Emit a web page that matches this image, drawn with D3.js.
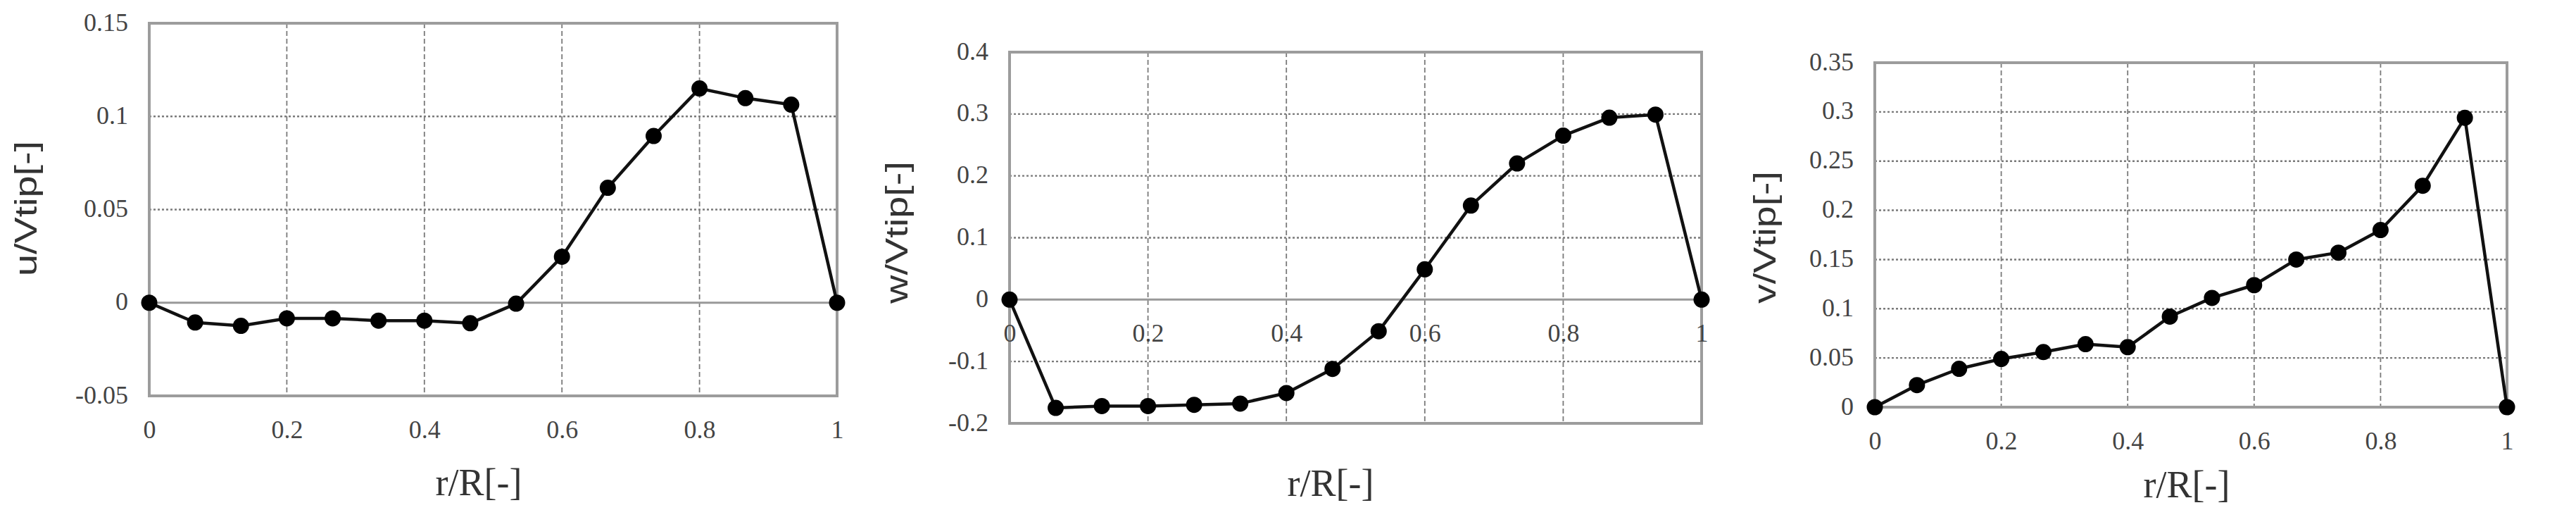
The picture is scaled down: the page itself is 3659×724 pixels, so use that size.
<!DOCTYPE html>
<html>
<head>
<meta charset="utf-8">
<script src="https://cdn.jsdelivr.net/npm/d3@7"></script>
<style>
  html, body { margin: 0; padding: 0; background: #ffffff; }
  svg { display: block; }
</style>
</head>
<body>
<svg id="chart" width="3659" height="724"></svg>
<script>
// ---------- data ----------
const rR = [0, 1/15, 2/15, 3/15, 4/15, 5/15, 6/15, 7/15, 8/15, 9/15, 10/15, 11/15, 12/15, 13/15, 14/15, 1];

const uVtip = [0, -0.0106, -0.0124, -0.0084, -0.0084, -0.0096, -0.0096, -0.011, -0.0005, 0.0247, 0.0617, 0.0895, 0.115, 0.1098, 0.1063, 0];
const wVtip = [0, -0.175, -0.172, -0.172, -0.170, -0.168, -0.151, -0.112, -0.051, 0.049, 0.152, 0.220, 0.265, 0.294, 0.299, 0];
const vVtip = [0, 0.0224, 0.039, 0.049, 0.056, 0.064, 0.061, 0.092, 0.111, 0.124, 0.150, 0.157, 0.180, 0.225, 0.294, 0];

const xTicks = [0, 0.2, 0.4, 0.6, 0.8, 1];
const xTickLabels = ["0", "0.2", "0.4", "0.6", "0.8", "1"];

const uTicks = [-0.05, 0, 0.05, 0.1, 0.15];
const uTickLabels = ["-0.05", "0", "0.05", "0.1", "0.15"];
const wTicks = [-0.2, -0.1, 0, 0.1, 0.2, 0.3, 0.4];
const wTickLabels = ["-0.2", "-0.1", "0", "0.1", "0.2", "0.3", "0.4"];
const vTicks = [0, 0.05, 0.1, 0.15, 0.2, 0.25, 0.3, 0.35];
const vTickLabels = ["0", "0.05", "0.1", "0.15", "0.2", "0.25", "0.3", "0.35"];

const xTitle = "r/R[-]";
const yTitles = ["u/Vtip[-]", "w/Vtip[-]", "v/Vtip[-]"];

// ---------- layout ----------
const panels = [
  { values: uVtip, yTicks: uTicks, yLabels: uTickLabels, yTitle: yTitles[0], yTitleLen: 192,
    left: 212, right: 1189, top: 33, bottom: 562, axisAt: "bottom",
    xTitleX: 680, xTitleY: 684, yTitleX: 37, yTitleY: 296 },
  { values: wVtip, yTicks: wTicks, yLabels: wTickLabels, yTitle: yTitles[1], yTitleLen: 202,
    left: 1434, right: 2417, top: 74, bottom: 601, axisAt: "zero",
    xTitleX: 1890, xTitleY: 685, yTitleX: 1274, yTitleY: 330 },
  { values: vVtip, yTicks: vTicks, yLabels: vTickLabels, yTitle: yTitles[2], yTitleLen: 188,
    left: 2663, right: 3561, top: 89, bottom: 578, axisAt: "bottom",
    xTitleX: 3106, xTitleY: 687, yTitleX: 2507, yTitleY: 337 }
];

const svg = d3.select("#chart");

panels.forEach(p => {
  const x = d3.scaleLinear().domain([0, 1]).range([p.left, p.right]);
  const y = d3.scaleLinear().domain(d3.extent(p.yTicks)).range([p.bottom, p.top]);
  const g = svg.append("g");

  // horizontal grid (dotted)
  g.append("g").selectAll("line")
    .data(p.yTicks.filter(t => t !== 0 && t !== d3.min(p.yTicks) && t !== d3.max(p.yTicks)))
    .join("line")
    .attr("x1", p.left).attr("x2", p.right)
    .attr("y1", d => y(d)).attr("y2", d => y(d))
    .attr("stroke", "#7a7a7a").attr("stroke-width", 2.4)
    .attr("stroke-dasharray", "3,3");

  // vertical grid (dashed)
  g.append("g").selectAll("line")
    .data(xTicks.slice(1, -1))
    .join("line")
    .attr("x1", d => x(d)).attr("x2", d => x(d))
    .attr("y1", p.top).attr("y2", p.bottom)
    .attr("stroke", "#7a7a7a").attr("stroke-width", 1.8)
    .attr("stroke-dasharray", "7,4");

  // zero line (solid) if inside
  if (d3.min(p.yTicks) < 0) {
    g.append("line")
      .attr("x1", p.left).attr("x2", p.right)
      .attr("y1", y(0)).attr("y2", y(0))
      .attr("stroke", "#999").attr("stroke-width", 3);
  }

  // frame
  g.append("rect")
    .attr("x", p.left).attr("y", p.top)
    .attr("width", p.right - p.left).attr("height", p.bottom - p.top)
    .attr("fill", "none").attr("stroke", "#9c9c9c").attr("stroke-width", 4);

  // y axis labels
  const yAxis = d3.axisLeft(y).tickValues(p.yTicks)
    .tickFormat((d, i) => p.yLabels[i]).tickSize(0).tickPadding(30);
  const ya = g.append("g").attr("transform", `translate(${p.left},0)`).call(yAxis);
  ya.select(".domain").remove();
  ya.attr("font-family", null).attr("font-size", null);
  ya.selectAll("text")
    .style("font-family", "'Liberation Serif', 'Times New Roman', serif")
    .style("font-size", "36px").attr("fill", "#444").attr("dy", "0.28em");

  // x axis labels
  const axisY = p.axisAt === "zero" ? y(0) : p.bottom;
  const xAxis = d3.axisBottom(x).tickValues(xTicks)
    .tickFormat((d, i) => xTickLabels[i]).tickSize(0).tickPadding(0);
  const xa = g.append("g").attr("transform", `translate(0,${axisY})`).call(xAxis);
  xa.select(".domain").remove();
  xa.attr("font-family", null).attr("font-size", null);
  xa.selectAll("text")
    .style("font-family", "'Liberation Serif', 'Times New Roman', serif")
    .style("font-size", "36px").attr("fill", "#444")
    .attr("y", 48).attr("dy", "0.33em");

  // line
  const line = d3.line().x((d, i) => x(rR[i])).y(d => y(d));
  g.append("path").datum(p.values)
    .attr("d", line).attr("fill", "none")
    .attr("stroke", "#111").attr("stroke-width", 4.5)
    .attr("stroke-linejoin", "round");

  // markers
  g.append("g").selectAll("circle")
    .data(p.values).join("circle")
    .attr("cx", (d, i) => x(rR[i])).attr("cy", d => y(d))
    .attr("r", 11.5).attr("fill", "#000");

  // x title
  g.append("text")
    .attr("x", p.xTitleX).attr("y", p.xTitleY)
    .attr("text-anchor", "middle").attr("dy", "0.35em")
    .style("font-family", "'Liberation Serif', 'Times New Roman', serif")
    .style("font-size", "54px").attr("fill", "#333")
    .text(xTitle);

  // y title (rotated, sans)
  g.append("text")
    .attr("transform", `translate(${p.yTitleX},${p.yTitleY}) rotate(-90)`)
    .attr("text-anchor", "middle").attr("dy", "0.35em")
    .attr("textLength", p.yTitleLen).attr("lengthAdjust", "spacingAndGlyphs")
    .style("font-family", "'Liberation Sans', Arial, sans-serif")
    .style("font-size", "44px").attr("fill", "#333")
    .text(p.yTitle);
});
</script>
</body>
</html>
